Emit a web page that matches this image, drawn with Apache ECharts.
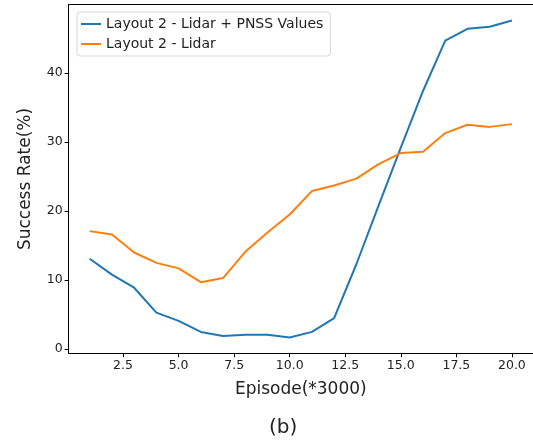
<!DOCTYPE html>
<html>
<head>
<meta charset="utf-8">
<script src="https://cdn.jsdelivr.net/npm/echarts@6/dist/echarts.min.js"></script>
<style>
  html, body { margin: 0; padding: 0; background: #fff; }
  #chart { width: 533px; height: 444px; }
</style>
</head>
<body>
<div id="chart"></div>
<script>
const episodes = [1, 2, 3, 4, 5, 6, 7, 8, 9, 10, 11, 12, 13, 14, 15, 16, 17, 18, 19, 20];
const pnssValues = [13.1, 10.8, 8.9, 5.3, 4.1, 2.5, 1.9, 2.1, 2.1, 1.7, 2.5, 4.5, 12.3, 20.8, 29.2, 37.4, 44.7, 46.4, 46.7, 47.6];
const lidarValues = [17.1, 16.6, 14.0, 12.5, 11.7, 9.7, 10.3, 14.1, 16.9, 19.5, 22.9, 23.7, 24.7, 26.8, 28.4, 28.6, 31.3, 32.5, 32.2, 32.6];
const xTicks = [2.5, 5, 7.5, 10, 12.5, 15, 17.5, 20];
const yTicks = [0, 10, 20, 30, 40];

const font = 'DejaVu Sans';
const chart = echarts.init(document.getElementById('chart'));

const toPairs = (vals) => episodes.map((x, i) => [x, vals[i]]);

const option = {
  animation: false,
  textStyle: { fontFamily: font },
  grid: {
    left: 68.6,
    width: 467,
    top: 4.7,
    bottom: 90.7,
  },
  legend: {
    orient: 'vertical',
    left: 77,
    top: 12,
    padding: [5, 7, 5, 4],
    itemGap: 6,
    itemWidth: 20,
    itemHeight: 2,
    icon: 'rect',
    backgroundColor: '#fff',
    borderColor: '#d6d6d6',
    borderWidth: 1,
    borderRadius: 3,
    textStyle: { fontFamily: font, fontSize: 14, color: '#222' },
    data: ['Layout 2 - Lidar + PNSS Values', 'Layout 2 - Lidar'],
  },
  xAxis: [
    {
      type: 'value',
      min: 0.05,
      max: 20.95,
      name: 'Episode(*3000)',
      nameLocation: 'middle',
      nameGap: 28,
      nameTextStyle: { fontFamily: font, fontSize: 17, color: '#222' },
      axisLine: { show: true, onZero: false, lineStyle: { color: '#000', width: 1 } },
      axisTick: { show: true, inside: false, length: 4, customValues: xTicks, lineStyle: { color: '#000' } },
      axisLabel: {
        customValues: xTicks,
        margin: 6,
        fontFamily: font,
        fontSize: 12.5,
        color: '#222',
        formatter: (v) => v.toFixed(1),
      },
      splitLine: { show: false },
    },
    {
      type: 'value',
      position: 'top',
      min: 0.05,
      max: 20.95,
      axisLine: { show: true, onZero: false, lineStyle: { color: '#000', width: 1 } },
      axisTick: { show: false },
      axisLabel: { show: false },
      splitLine: { show: false },
    },
  ],
  yAxis: {
    type: 'value',
    min: -0.6,
    max: 49.9,
    name: 'Success Rate(%)',
    nameLocation: 'middle',
    nameGap: 35,
    nameTextStyle: { fontFamily: font, fontSize: 17, color: '#222' },
    axisLine: { show: true, onZero: false, lineStyle: { color: '#000', width: 1 } },
    axisTick: { show: true, inside: false, length: 4, customValues: yTicks, lineStyle: { color: '#000' } },
    axisLabel: {
      customValues: yTicks,
      margin: 6,
      fontFamily: font,
      fontSize: 12.5,
      color: '#222',
    },
    splitLine: { show: false },
  },
  series: [
    {
      name: 'Layout 2 - Lidar + PNSS Values',
      type: 'line',
      data: toPairs(pnssValues),
      showSymbol: false,
      color: '#1f77b4',
      lineStyle: { width: 2 },
    },
    {
      name: 'Layout 2 - Lidar',
      type: 'line',
      data: toPairs(lidarValues),
      showSymbol: false,
      color: '#ff7f0e',
      lineStyle: { width: 2 },
    },
  ],
  graphic: [
    {
      type: 'text',
      left: 283 - 14,
      top: 418,
      style: { text: '(b)', font: '20px "DejaVu Sans"', fill: '#222' },
    },
  ],
};

chart.setOption(option);
</script>
</body>
</html>
